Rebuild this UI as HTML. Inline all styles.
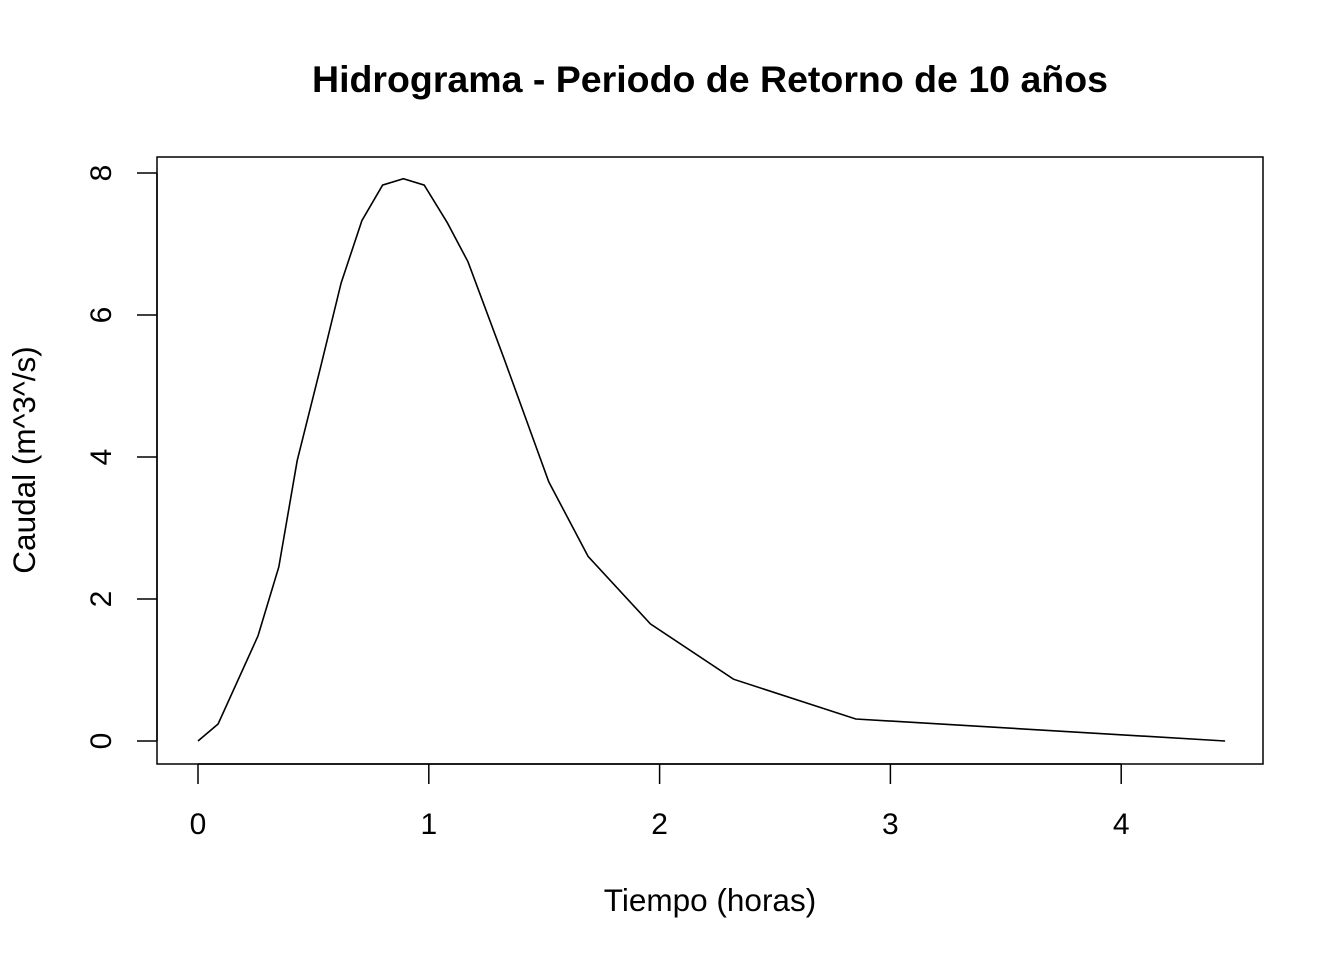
<!DOCTYPE html>
<html><head><meta charset="utf-8"><style>
html,body{margin:0;padding:0;background:#fff}
svg{display:block;font-family:"Liberation Sans",Arial,sans-serif}
</style></head><body>
<svg id="chart" width="1344" height="960" viewBox="0 0 1344 960">
<rect width="1344" height="960" fill="#fff"/>
<text x="710" y="92" text-anchor="middle" font-size="37.5" font-weight="bold">Hidrograma - Periodo de Retorno de 10 años</text>
<rect x="157" y="157" width="1106" height="607" fill="none" stroke="#000" stroke-width="1.5"/>
<g id="xaxis"></g>
<g id="yaxis"></g>
<text x="710" y="911" text-anchor="middle" font-size="31.5">Tiempo (horas)</text>
<text transform="translate(35,460) rotate(-90)" text-anchor="middle" font-size="31.5">Caudal (m^3^/s)</text>
<g id="series"></g>
</svg>
<script>
const timeHours=[0,0.087,0.26,0.35,0.43,0.53,0.62,0.71,0.80,0.89,0.98,1.08,1.17,1.33,1.52,1.69,1.96,2.32,2.85,4.45];
const flowValues=[0,0.24,1.48,2.45,3.95,5.25,6.45,7.33,7.83,7.92,7.83,7.3,6.75,5.35,3.65,2.6,1.65,0.87,0.31,0.0];
const xTicks=[0,1,2,3,4];
const yTicks=[0,2,4,6,8];
const NS="http://www.w3.org/2000/svg";
function xs(v){return 198+v*230.8;}
function ys(v){return 741-v*71;}
function mk(t,a){const e=document.createElementNS(NS,t);for(const k in a)e.setAttribute(k,a[k]);return e;}
const xa=document.getElementById('xaxis');
const ya=document.getElementById('yaxis');
const se=document.getElementById('series');
let l=mk('line',{x1:xs(xTicks[0]),x2:xs(xTicks[xTicks.length-1]),y1:764,y2:764,stroke:'#000','stroke-width':1.5});


xa.appendChild(l);
xTicks.forEach(v=>{
 const t=mk('line',{x1:xs(v),x2:xs(v),y1:764,y2:784,stroke:'#000','stroke-width':1.5});
 
 
 xa.appendChild(t);
 const tx=mk('text',{x:xs(v),y:834,'text-anchor':'middle','font-size':30});
 tx.textContent=v;
 
 
 xa.appendChild(tx);
});
l=mk('line',{x1:157,x2:157,y1:ys(yTicks[0]),y2:ys(yTicks[yTicks.length-1]),stroke:'#000','stroke-width':1.5});


ya.appendChild(l);
yTicks.forEach(v=>{
 const t=mk('line',{x1:137,x2:157,y1:ys(v),y2:ys(v),stroke:'#000','stroke-width':1.5});
 
 
 ya.appendChild(t);
 const tx=mk('text',{transform:`translate(111,${ys(v)}) rotate(-90)`,'text-anchor':'middle','font-size':30});
 tx.textContent=v;
 
 
 ya.appendChild(tx);
});
const pts=timeHours.map((t,i)=>xs(t).toFixed(1)+','+ys(flowValues[i]).toFixed(1)).join(' ');
const pl=mk('polyline',{points:pts,fill:'none',stroke:'#000','stroke-width':1.6});


se.appendChild(pl);
</script>
</body></html>
